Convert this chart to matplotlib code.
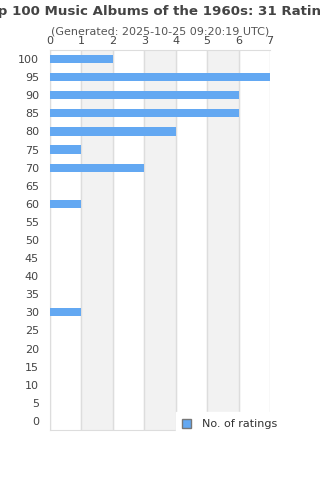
import matplotlib
matplotlib.use("Agg")
import matplotlib.pyplot as plt

# rating buckets and number of ratings in each
ratings = [100, 95, 90, 85, 80, 75, 70, 65, 60, 55, 50, 45, 40, 35, 30, 25, 20, 15, 10, 5, 0]
counts = [2, 7, 6, 6, 4, 1, 3, 0, 1, 0, 0, 0, 0, 0, 1, 0, 0, 0, 0, 0, 0]

fig = plt.figure(figsize=(3.2, 4.8), dpi=100)
ax = fig.add_axes([50 / 320, 50 / 480, 220 / 320, 380 / 480])

pos = list(range(len(ratings)))
ax.barh(pos, counts, height=0.45, color="#63a8f2", label="No. of ratings", zorder=3)

# alternating bands
for i in range(7):
    if i % 2 == 1:
        ax.axvspan(i, i + 1, color="#f2f2f2", zorder=0)

ax.set_xlim(0, 7)
ax.set_ylim(len(ratings) - 0.5, -0.5)
ax.set_yticks(pos)
ax.set_yticklabels([str(r) for r in ratings])
ax.set_xticks(range(8))
ax.xaxis.tick_top()
ax.tick_params(axis="both", length=0, labelsize=8, colors="#444444")
ax.tick_params(axis="x", pad=3.2)
ax.tick_params(axis="y", pad=8)
ax.grid(axis="x", color="#dddddd", linewidth=1, zorder=1)
for s in ax.spines.values():
    s.set_color("#dddddd")
ax.spines["right"].set_visible(False)

fig.text(0.5, 475 / 480, "Top 100 Music Albums of the 1960s: 31 Ratings",
         ha="center", va="top", fontsize=9.6, fontweight="bold", color="#444444")
fig.text(0.5, 454 / 480, "(Generated: 2025-10-25 09:20:19 UTC)",
         ha="center", va="top", fontsize=8, color="#555555")

leg = ax.legend(loc="lower right", bbox_to_anchor=(1.09, -0.03), fontsize=8,
                frameon=True, fancybox=False, edgecolor="white", framealpha=1,
                handlelength=0.8, handleheight=0.8, handletextpad=1.0, borderpad=0.6)
leg.get_patches()[0].set_edgecolor("#777777")
for t in leg.get_texts():
    t.set_color("#333333")

fig.savefig("out.png", dpi=100)
